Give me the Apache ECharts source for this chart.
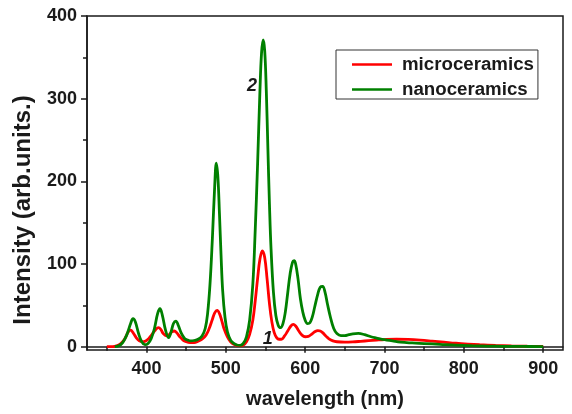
<!DOCTYPE html>
<html>
<head>
<meta charset="utf-8">
<script src="https://cdn.jsdelivr.net/npm/echarts@6/dist/echarts.min.js"></script>
<style>
  html, body { margin: 0; padding: 0; background: #fff; }
  #chart { width: 572px; height: 414px; }
</style>
</head>
<body>
<div id="chart"></div>
<script>
// microceramics (curve 1)
var microX = [350, 355, 360, 365, 370, 374, 377, 380, 383, 387, 391, 395, 399, 403, 407, 411, 415, 418, 421, 425,
  429, 432, 435, 438, 442, 446, 450, 455, 460, 465, 470, 475, 479, 483, 486, 489, 492, 495, 498, 502,
  506, 510, 514, 518, 522, 526, 530, 534, 537, 540, 543, 546, 549, 552, 555, 558, 561, 564, 567, 570,
  574, 578, 582, 585, 588, 592, 596, 600, 604, 608, 612, 616, 619, 622, 626, 630, 635, 640, 650, 660,
  670, 680, 690, 700, 715, 730, 745, 760, 775, 790, 805, 820, 840, 860, 880, 900];
var microY = [0, 0, 0.5, 2, 6, 12, 18, 20, 17, 11, 7, 6, 7, 10, 15, 20, 23, 21, 16, 13,
  15, 18, 19, 17, 12, 8, 6, 5, 5, 6.5, 9, 14, 22, 33, 41, 44, 40, 31, 21, 12,
  6, 3, 1.5, 1, 2, 6, 15, 32, 55, 82, 106, 116, 108, 82, 52, 30, 17, 11, 9, 9,
  13, 19, 25, 27, 25, 19, 14, 12, 12.5, 15, 18, 19.5, 19, 17, 13, 9.5, 7, 6, 5.5, 5.8,
  6.5, 7.3, 8, 8.6, 9, 8.8, 8, 6.8, 5.5, 4.2, 3.2, 2.4, 1.6, 1, 0.6, 0.3];

// nanoceramics (curve 2)
var nanoX = [360, 365, 370, 375, 380, 383, 386, 390, 394, 398, 402, 406, 410, 414, 417, 420, 424, 428, 431, 434,
  437, 440, 444, 448, 452, 456, 460, 465, 470, 474, 477, 480, 483, 486, 488, 490, 492, 494, 496, 499,
  502, 506, 510, 514, 518, 522, 526, 530, 534, 537, 540, 543, 545, 547, 549, 551, 553, 555, 557, 560,
  563, 566, 569, 572, 575, 578, 581, 584, 586, 588, 591, 594, 597, 600, 603, 606, 609, 612, 616, 619,
  622, 625, 628, 632, 636, 640, 645, 650, 655, 660, 667, 675, 683, 690, 700, 710, 720, 735, 750, 770,
  790, 810, 830, 850, 875, 900];
var nanoY = [0, 1, 5, 14, 28, 34, 30, 16, 6, 2.5, 4, 10, 22, 40, 46, 38, 20, 11, 18, 28,
  31, 26, 16, 10, 8, 7, 7.5, 9, 13, 22, 40, 75, 130, 195, 222, 205, 160, 110, 68, 35,
  18, 8, 4, 2, 1.5, 4, 12, 32, 75, 140, 220, 310, 355, 371, 358, 310, 240, 172, 118, 66,
  38, 26, 23, 28, 42, 65, 88, 102, 104, 100, 82, 58, 42, 32, 28, 29, 36, 48, 64, 72,
  73, 66, 52, 35, 22, 16, 13.5, 13.5, 14.5, 15.5, 16, 14.5, 12, 10.5, 8.5, 7, 5.5, 4.5, 3.8, 2.8,
  1.8, 1.2, 0.8, 0.5, 0.3, 0.2];

var xMajor = [400, 500, 600, 700, 800, 900];
var xMinor = [350, 450, 550, 650, 750, 850];
var yMajor = [0, 100, 200, 300, 400];
var yMinor = [50, 150, 250, 350];

function pairs(xs, ys) {
  return xs.map(function (x, i) { return [x, ys[i]]; });
}

var font = 'Liberation Sans, Arial, sans-serif';
var ink = '#1a1a1a';

var chart = echarts.init(document.getElementById('chart'), null, { renderer: 'canvas' });

// 主轴 + 只画短刻度的副轴
function xAxis(ticks, len, showLabel, showName) {
  return {
    type: 'value', min: 325, max: 925, position: 'bottom',
    name: showName ? 'wavelength (nm)' : '',
    nameLocation: 'middle', nameGap: 39,
    nameTextStyle: { fontFamily: font, fontWeight: 'bold', fontSize: 20, color: ink },
    axisLine: { show: showLabel, lineStyle: { color: ink, width: 1.5 } },
    axisTick: { show: true, inside: false, length: len, customValues: ticks, lineStyle: { color: ink, width: 1.5 } },
    axisLabel: { show: showLabel, customValues: ticks, margin: 10, fontFamily: font, fontWeight: 'bold', fontSize: 18, color: ink },
    splitLine: { show: false }
  };
}
function yAxis(ticks, len, showLabel, showName) {
  return {
    type: 'value', min: -4, max: 400, position: 'left',
    name: showName ? 'Intensity (arb.units.)' : '',
    nameLocation: 'middle', nameGap: 52,
    nameTextStyle: { fontFamily: font, fontWeight: 'bold', fontSize: 24, color: ink, padding: [0, 54, 0, 0] },
    axisLine: { show: showLabel, lineStyle: { color: ink, width: 1.5 } },
    axisTick: { show: true, inside: false, length: len, customValues: ticks, lineStyle: { color: ink, width: 1.5 } },
    axisLabel: { show: showLabel, customValues: ticks, margin: 10, fontFamily: font, fontWeight: 'bold', fontSize: 18, color: ink },
    splitLine: { show: false }
  };
}

var option = {
  backgroundColor: '#fff',
  animation: false,
  grid: {
    left: 87, top: 16, right: 9, bottom: 61,
    show: true, borderColor: ink, borderWidth: 1.5, backgroundColor: 'transparent'
  },
  legend: {
    orient: 'vertical',
    left: 336, top: 50,
    padding: [5, 4, 0, 16],
    itemGap: 6,
    icon: 'rect',
    itemWidth: 40, itemHeight: 2.5,
    borderColor: '#333', borderWidth: 1,
    textStyle: { fontFamily: font, fontWeight: 'bold', fontSize: 18.7, color: ink, padding: [0, 0, 0, 5] },
    data: ['microceramics', 'nanoceramics']
  },
  xAxis: [xAxis(xMajor, 6, true, true), xAxis(xMinor, 4, false, false)],
  yAxis: [yAxis(yMajor, 6, true, true), yAxis(yMinor, 4, false, false)],
  series: [
    {
      name: 'microceramics', type: 'line', smooth: 0.4, symbol: 'none',
      data: pairs(microX, microY),
      lineStyle: { color: '#ff0000', width: 2.8 }, itemStyle: { color: '#ff0000' },
      z: 2,
      markPoint: {
        symbol: 'circle', symbolSize: 1, itemStyle: { color: 'rgba(0,0,0,0)' },
        label: { show: true, formatter: '1', fontFamily: font, fontWeight: 'bold', fontStyle: 'italic', fontSize: 18, color: ink },
        data: [{ coord: [553, 9] }]
      }
    },
    {
      name: 'nanoceramics', type: 'line', smooth: 0.4, symbol: 'none',
      data: pairs(nanoX, nanoY),
      lineStyle: { color: '#008000', width: 2.8 }, itemStyle: { color: '#008000' },
      z: 3,
      markPoint: {
        symbol: 'circle', symbolSize: 1, itemStyle: { color: 'rgba(0,0,0,0)' },
        label: { show: true, formatter: '2', fontFamily: font, fontWeight: 'bold', fontStyle: 'italic', fontSize: 18, color: ink },
        data: [{ coord: [533, 315] }]
      }
    }
  ]
};

chart.setOption(option);
</script>
</body>
</html>
